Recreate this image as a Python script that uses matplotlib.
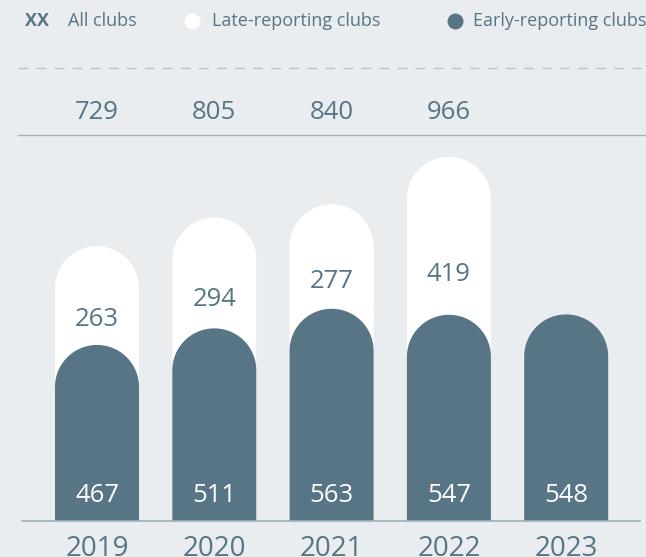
import numpy as np
import matplotlib.pyplot as plt
from matplotlib.patches import PathPatch
from matplotlib.path import Path

BG = "#e9edf0"
DARK = "#577585"
LINE = "#a2afb8"
TXT = "#577585"

years = ["2019", "2020", "2021", "2022", "2023"]
early = [467, 511, 563, 547, 548]
late = [263, 294, 277, 419, None]
totals = [729, 805, 840, 966, None]

W, H = 646, 557
plt.rcParams["font.family"] = ["Open Sans", "DejaVu Sans"]

fig = plt.figure(figsize=(W / 100, H / 100), dpi=100, facecolor=BG)
ax = fig.add_axes([0, 0, 1, 1])
ax.set_facecolor(BG)
ax.axis("off")

# pixel layout -> data limits
px_per_x = 117.3
px_per_y = 0.377
x0_px, base_px = 97, 36
ax.set_xlim(-x0_px / px_per_x, (W - x0_px) / px_per_x)
ax.set_ylim(-base_px / px_per_y, (H - base_px) / px_per_y)


def py(p):
    # pixels above the bottom edge -> data y
    return (p - base_px) / px_per_y


def px(p):
    return (p - x0_px) / px_per_x


bar_w = 84 / px_per_x
cap_h = 42 / px_per_y  # radius of the rounded top in data y units
theta = np.linspace(0, np.pi, 60)


def rounded_bar(x, top, color):
    # straight sides up to the shoulder, then a half circle to the top
    shoulder = top - cap_h
    xs = np.concatenate([[x + bar_w / 2], x + bar_w / 2 * np.cos(theta), [x - bar_w / 2]])
    ys = np.concatenate([[0], shoulder + cap_h * np.sin(theta), [0]])
    verts = np.column_stack([xs, ys])
    ax.add_patch(PathPatch(Path(np.vstack([verts, verts[:1]]), closed=True),
                           facecolor=color, edgecolor="none", zorder=2))


for i, yr in enumerate(years):
    if totals[i] is not None:
        rounded_bar(i, totals[i], "white")
        ax.text(i, py(444), str(totals[i]), ha="center", va="center",
                fontsize=18.5, color=TXT)
        ax.text(i, early[i] + 0.25 * late[i] + 3, str(late[i]), ha="center",
                va="center", fontsize=18.5, color=TXT, zorder=4)
    rounded_bar(i, early[i], DARK)
    ax.text(i, py(61), str(early[i]), ha="center", va="center",
            fontsize=18.5, color="white", zorder=4)
    ax.text(i, py(8), yr, ha="center", va="center", fontsize=20, color=TXT)

# reference lines
ax.plot([px(18), px(646)], [py(489), py(489)], color="#b9c3ca", lw=1,
        dashes=(7, 6), zorder=1)
ax.plot([px(18), px(646)], [py(422), py(422)], color=LINE, lw=1, zorder=1)
ax.plot([px(22), px(640)], [0, 0], color=LINE, lw=1.2, zorder=3)

# legend row
ly = 1 - 21 / H
fig.text(25 / W, ly, "XX", fontsize=13, fontweight="bold", color=TXT, va="center")
fig.text(68 / W, ly, "All clubs", fontsize=13, color=TXT, va="center")
ax.plot([192 / W], [ly], "o", ms=11.5, color="white", mew=0,
        transform=fig.transFigure, clip_on=False)
fig.text(212 / W, ly, "Late-reporting clubs", fontsize=13, color=TXT, va="center")
ax.plot([455 / W], [ly], "o", ms=11.5, color=DARK, mew=0,
        transform=fig.transFigure, clip_on=False)
fig.text(473 / W, ly, "Early-reporting clubs", fontsize=13, color=TXT, va="center")

fig.savefig("out.png", dpi=100, facecolor=BG)
